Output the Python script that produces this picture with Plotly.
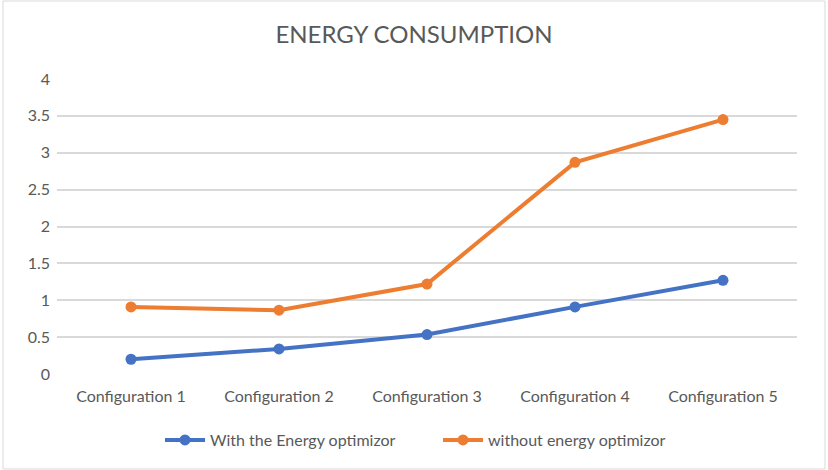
import plotly.graph_objects as go

categories = ["Configuration 1", "Configuration 2", "Configuration 3", "Configuration 4", "Configuration 5"]
with_optimizer = [0.20, 0.34, 0.535, 0.91, 1.27]
without_optimizer = [0.91, 0.865, 1.22, 2.87, 3.45]
y_ticks = [0, 0.5, 1, 1.5, 2, 2.5, 3, 3.5, 4]
y_tick_labels = ["0", "0.5", "1", "1.5", "2", "2.5", "3", "3.5", "4"]

W, H = 828, 470
ML, MR, MT, MB = 57, 31, 79, 96
FONT = "Lato"
GREY = "#595959"

fig = go.Figure()
fig.add_trace(go.Scatter(
    x=categories, y=with_optimizer, name="With the Energy optimizor",
    mode="lines+markers", line=dict(color="#4472C4", width=4),
    marker=dict(size=11, color="#4472C4")))
fig.add_trace(go.Scatter(
    x=categories, y=without_optimizer, name="without energy optimizor",
    mode="lines+markers", line=dict(color="#ED7D31", width=4),
    marker=dict(size=11, color="#ED7D31")))

pw = W - ML - MR
ph = H - MT - MB
fig.add_shape(type="rect", xref="paper", yref="paper",
              x0=(3 - ML) / pw, x1=(825 - ML) / pw,
              y0=-(H - 1 - MT - ph) / ph, y1=(MT - 1) / ph + 1,
              line=dict(color="#D9D9D9", width=1), layer="below")

fig.update_layout(
    width=W, height=H,
    margin=dict(l=ML, r=MR, t=MT, b=MB),
    paper_bgcolor="white", plot_bgcolor="white",
    font=dict(family=FONT, color=GREY, size=16),
    title=dict(text="ENERGY CONSUMPTION", x=0.5, xanchor="center",
               y=1 - 35 / H, yanchor="middle",
               font=dict(family=FONT, size=24, color=GREY)),
    xaxis=dict(type="category", showgrid=False, showline=False, zeroline=False,
               ticks="", tickfont=dict(size=16, color=GREY), range=[-0.5, 4.5],
               ticklabelstandoff=11),
    yaxis=dict(range=[0, 4], tickvals=y_ticks, ticktext=y_tick_labels,
               showgrid=True, gridcolor="#D9D9D9", gridwidth=1.5,
               zeroline=False, showline=False, ticks="",
               tickfont=dict(size=16, color=GREY), ticklabelstandoff=6),
    legend=dict(orientation="h", x=0.5 + 11 / pw, xanchor="center", y=-(440 - MT - ph) / ph,
                yanchor="middle", font=dict(size=16, color=GREY),
                itemwidth=40, tracegroupgap=0, entrywidth=223, entrywidthmode="pixels"),
    showlegend=True,
)

fig.write_html("out.html")
